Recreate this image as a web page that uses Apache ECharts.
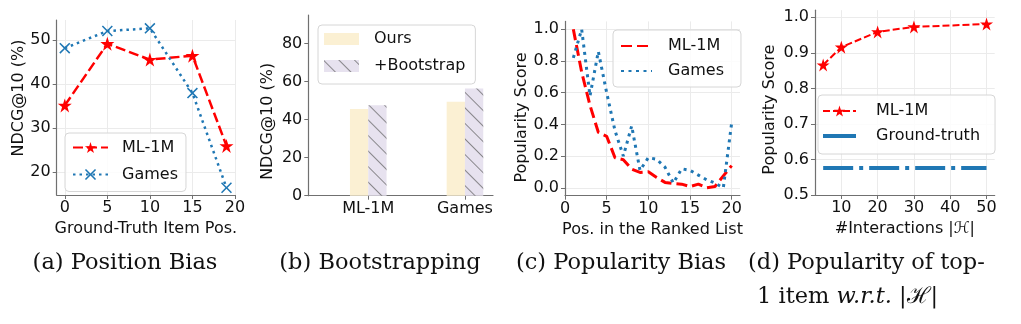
<!DOCTYPE html>
<html>
<head>
<meta charset="utf-8">
<script src="https://cdn.jsdelivr.net/npm/echarts@6/dist/echarts.min.js"></script>
<style>
  html, body { margin: 0; padding: 0; background: #ffffff; }
  #chart { width: 1021px; height: 324px; }
</style>
</head>
<body>
<div id="chart"></div>
<script>
// (a) NDCG@10 by position of the ground-truth item
const aPos = [0, 5, 10, 15, 19];
const aML = [35.1, 49.1, 45.5, 46.4, 25.9];
const aGames = [48.1, 52.0, 52.6, 37.9, 16.4];
const aXTicks = [0, 5, 10, 15, 20];
const aYTicks = [20, 30, 40, 50];

// (b) bootstrapping comparison
const bCats = ['ML-1M', 'Games'];
const bOurs = [45.6, 49.4];
const bBoot = [47.6, 56.4];
const bYTicks = [0, 20, 40, 60, 80];

// (c) popularity score along the ranked list
const cPos = [1, 2, 3, 4, 5, 6, 7, 8, 9, 10, 11, 12, 13, 14, 15, 16, 17, 18, 19, 20];
const cML = [1.0, 0.73, 0.52, 0.35, 0.325, 0.19, 0.177, 0.118, 0.097, 0.101,
             0.065, 0.034, 0.027, 0.023, 0.008, 0.023, 0.0, 0.008, 0.075, 0.14];
const cGames = [0.82, 1.0, 0.58, 0.86, 0.6, 0.36, 0.2, 0.39, 0.11, 0.19,
                0.18, 0.13, 0.03, 0.12, 0.11, 0.08, 0.05, 0.03, 0.0, 0.41];
const cXTicks = [0, 5, 10, 15, 20];
const cYTicks = [0, 0.2, 0.4, 0.6, 0.8, 1.0];

// (d) popularity of the top-1 item vs. number of interactions
const dPos = [5, 10, 20, 30, 50];
const dML = [0.866, 0.916, 0.959, 0.973, 0.981];
const dGroundTruth = 0.576;
const dXTicks = [10, 20, 30, 40, 50];
const dYTicks = [0.5, 0.6, 0.7, 0.8, 0.9, 1.0];

const RED = '#ff0000';
const BLUE = '#1f77b4';
const SANS = 'DejaVu Sans';
const FS = 16;
const starPath = 'path://M50,0 L61.2,34.5 L97.6,34.5 L68.2,55.9 L79.4,90.5 L50,69.1 L20.6,90.5 L31.8,55.9 L2.4,34.5 L38.8,34.5 Z';
const crossPath = 'path://M0,1 L1,0 L5,4 L9,0 L10,1 L6,5 L10,9 L9,10 L5,6 L1,10 L0,9 L4,5 Z';

const pairs = (xs, ys) => xs.map((x, i) => [x, ys[i]]);

function valueAxis(grid, opts) {
  const ax = {
    type: 'value',
    gridIndex: grid,
    min: opts.min,
    max: opts.max,
    name: opts.name || '',
    nameLocation: 'middle',
    nameGap: opts.nameGap || 24,
    nameTextStyle: Object.assign({ fontFamily: SANS, fontSize: FS, color: '#111' }, opts.nameStyle || {}),
    axisLine: { show: true, onZero: false, lineStyle: { color: '#707070', width: 1.2 } },
    axisTick: { show: true, length: 4, lineStyle: { color: '#707070', width: 1 } },
    axisLabel: { fontFamily: SANS, fontSize: FS, color: '#111', margin: opts.margin || 6,
                 formatter: opts.formatter },
    splitLine: { show: opts.grid !== false, lineStyle: { color: '#ebebeb', width: 1 } }
  };
  if (opts.ticks) {
    ax.axisTick.customValues = opts.ticks;
    ax.axisLabel.customValues = opts.ticks;
  }
  return ax;
}

function legendBox(opts) {
  return Object.assign({
    orient: 'vertical',
    itemWidth: 35,
    itemHeight: 14,
    borderColor: '#d6d6d6',
    borderWidth: 1,
    borderRadius: 4,
    backgroundColor: 'rgba(255,255,255,0.85)',
    selectedMode: false,
    formatter: n => n.split(':')[1],
    textStyle: { fontFamily: SANS, fontSize: FS, color: '#111', lineHeight: 14, padding: [0, 0, 0, 9] }
  }, opts);
}

// legend entry that shows only the line of a series (no marker)
const lineOnly = (name, extra) => Object.assign({ name: name, itemStyle: { opacity: 0 } }, extra || {});

const chart = echarts.init(document.getElementById('chart'), null, { renderer: 'canvas' });

const option = {
  animation: false,
  backgroundColor: '#ffffff',
  grid: [
    { left: 56.7, top: 20, width: 178.3, height: 175 },
    { left: 308.3, top: 15, width: 184.7, height: 180.7 },
    { left: 565, top: 21.4, width: 175, height: 174.3 },
    { left: 815, top: 10.2, width: 179.7, height: 184.8 }
  ],
  xAxis: [
    valueAxis(0, { min: -0.95, max: 20, ticks: aXTicks, name: 'Ground-Truth Item Pos.', nameGap: 24, margin: 5 }),
    valueAxis(1, { min: -0.62, max: 1.29, ticks: [0, 1], grid: false, margin: 5,
                   formatter: v => bCats[Math.round(v)] }),
    valueAxis(2, { min: 0, max: 21, ticks: cXTicks, name: 'Pos. in the Ranked List', nameGap: 24, margin: 5 }),
    valueAxis(3, { min: 2.75, max: 52.25, ticks: dXTicks, name: '#Interactions |\u210B|', nameGap: 24, margin: 5 })
  ],
  yAxis: [
    valueAxis(0, { min: 14.75, max: 54.5, ticks: aYTicks, name: 'NDCG@10 (%)', nameGap: 29,
                   nameStyle: { padding: [0, 0, 0, 19] } }),
    valueAxis(1, { min: 0, max: 95, ticks: bYTicks, grid: false, name: 'NDCG@10 (%)', nameGap: 32,
                   nameStyle: { padding: [0, 32, 0, 0] } }),
    valueAxis(2, { min: -0.05, max: 1.05, ticks: cYTicks, name: 'Popularity Score', nameGap: 35,
                   formatter: v => v.toFixed(1), nameStyle: { padding: [0, 18, 0, 0] } }),
    valueAxis(3, { min: 0.5, max: 1.02, ticks: dYTicks, name: 'Popularity Score', nameGap: 37,
                   formatter: v => v.toFixed(1), nameStyle: { padding: [0, 14, 0, 0] } })
  ],
  legend: [
    legendBox({ left: 65, top: 133, padding: [6.5, 8, 9, 7], itemGap: 11,
                data: ['a:ML-1M', 'a:Games'] }),
    legendBox({ left: 318, top: 25, padding: [6, 10, 10, 6], itemGap: 11, itemHeight: 12, icon: 'rect',
                textStyle: { fontFamily: SANS, fontSize: FS, color: '#111', lineHeight: 14, padding: [0, 0, 0, 10] },
                data: ['b:Ours', 'b:+Bootstrap'] }),
    legendBox({ left: 613, top: 30, padding: [8, 17, 8, 7], itemGap: 9, itemWidth: 31,
                textStyle: { fontFamily: SANS, fontSize: FS, color: '#111', lineHeight: 14, padding: [0, 0, 0, 11] },
                data: [lineOnly('c:ML-1M'), lineOnly('c:Games')] }),
    legendBox({ left: 818, top: 95, padding: [8, 15, 10, 3], itemGap: 9, itemWidth: 33,
                textStyle: { fontFamily: SANS, fontSize: FS, color: '#111', lineHeight: 14, padding: [0, 0, 0, 15] },
                data: ['d:ML-1M', lineOnly('d:Ground-truth', { lineStyle: { type: 'solid', width: 4 } })] })
  ],
  series: [
    {
      name: 'a:ML-1M', type: 'line', xAxisIndex: 0, yAxisIndex: 0,
      data: pairs(aPos, aML),
      symbol: starPath, symbolSize: 14,
      itemStyle: { color: RED },
      lineStyle: { color: RED, width: 2.5, type: [10, 4] }
    },
    {
      name: 'a:Games', type: 'line', xAxisIndex: 0, yAxisIndex: 0,
      data: pairs(aPos, aGames),
      symbol: crossPath, symbolSize: 11,
      itemStyle: { color: BLUE },
      lineStyle: { color: BLUE, width: 2.5, type: [2.5, 4] }
    },
    {
      name: 'b:Ours', type: 'bar', xAxisIndex: 1, yAxisIndex: 1,
      data: pairs([0, 1], bOurs),
      barWidth: 18.3, barGap: '0%',
      itemStyle: { color: '#fbf0d3' }
    },
    {
      name: 'b:+Bootstrap', type: 'bar', xAxisIndex: 1, yAxisIndex: 1,
      data: pairs([0, 1], bBoot),
      barWidth: 18.3, barGap: '0%',
      itemStyle: {
        color: '#e7e2ef',
        decal: {
          symbol: 'rect', symbolSize: 1,
          color: 'rgba(95,95,95,0.7)',
          dashArrayX: [1, 0],
          dashArrayY: [1, 9.5],
          rotation: Math.PI / 4
        }
      }
    },
    {
      name: 'c:ML-1M', type: 'line', xAxisIndex: 2, yAxisIndex: 2,
      data: pairs(cPos, cML), symbol: 'none',
      lineStyle: { color: RED, width: 3, type: [11, 5] },
      itemStyle: { color: RED }
    },
    {
      name: 'c:Games', type: 'line', xAxisIndex: 2, yAxisIndex: 2,
      data: pairs(cPos, cGames), symbol: 'none',
      lineStyle: { color: BLUE, width: 3, type: [3, 4.5] },
      itemStyle: { color: BLUE }
    },
    {
      name: 'd:ML-1M', type: 'line', xAxisIndex: 3, yAxisIndex: 3,
      data: pairs(dPos, dML),
      symbol: starPath, symbolSize: 13,
      itemStyle: { color: RED },
      lineStyle: { color: RED, width: 2, type: [7, 3] }
    },
    {
      name: 'd:Ground-truth', type: 'line', xAxisIndex: 3, yAxisIndex: 3,
      data: [[dPos[0], dGroundTruth], [dPos[dPos.length - 1], dGroundTruth]],
      symbol: 'none',
      itemStyle: { color: BLUE },
      lineStyle: { color: BLUE, width: 4, type: [30, 6, 4, 6] }
    }
  ],
  graphic: [
    { type: 'text', x: 125, y: 263, style: { text: '(a) Position Bias', font: '22.5px "DejaVu Serif"', fill: '#111', align: 'center', verticalAlign: 'middle' } },
    { type: 'text', x: 380, y: 263, style: { text: '(b) Bootstrapping', font: '22.5px "DejaVu Serif"', fill: '#111', align: 'center', verticalAlign: 'middle' } },
    { type: 'text', x: 621, y: 263, style: { text: '(c) Popularity Bias', font: '22.5px "DejaVu Serif"', fill: '#111', align: 'center', verticalAlign: 'middle' } },
    { type: 'text', x: 748, y: 263, style: { text: '(d) Popularity of top-', font: '22.5px "DejaVu Serif"', fill: '#111', align: 'left', verticalAlign: 'middle' } },
    { type: 'text', x: 757, y: 297, style: {
        text: '1 item {i|w.r.t.} |\u210B|', font: '22.5px "DejaVu Serif"', fill: '#111', align: 'left', verticalAlign: 'middle',
        rich: { i: { font: 'italic 22.5px "DejaVu Serif"', fill: '#111' } } } }
  ]
};

chart.setOption(option);
</script>
</body>
</html>
